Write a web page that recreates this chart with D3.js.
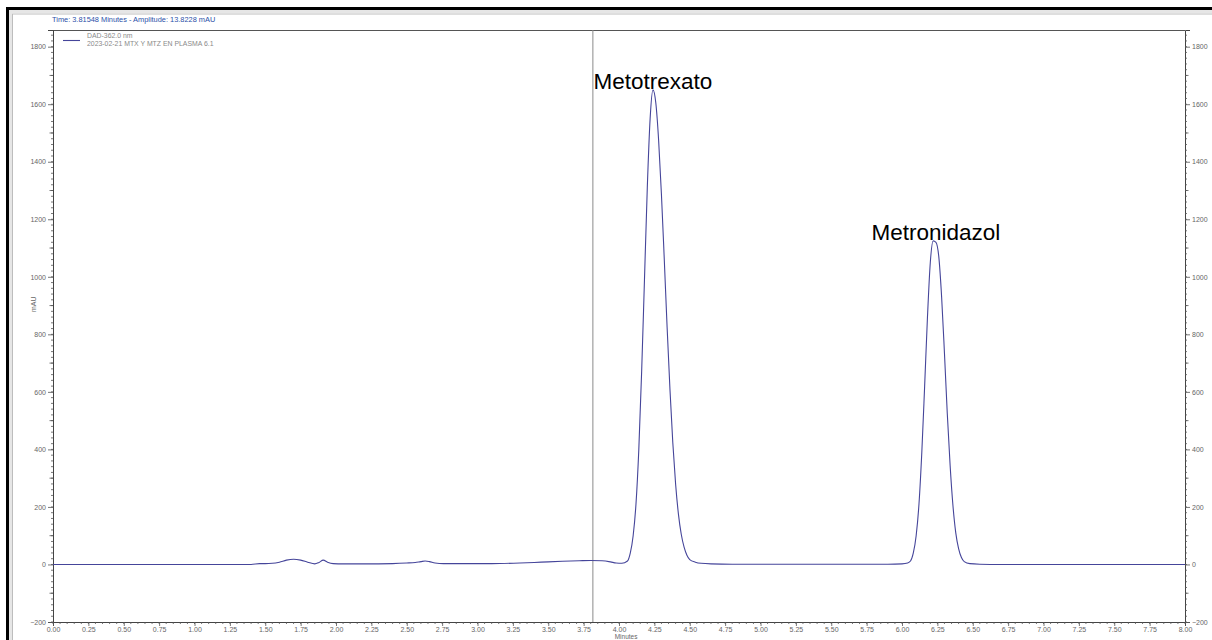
<!DOCTYPE html>
<html>
<head>
<meta charset="utf-8">
<script src="https://cdn.jsdelivr.net/npm/d3@7/dist/d3.min.js"></script>
<style>
  html, body { margin: 0; padding: 0; background: #fff; }
  svg { display: block; font-family: Arial, "Liberation Sans", sans-serif; }
</style>
</head>
<body>
<svg id="chart" width="1212" height="640"></svg>
<script>
// Chromatogram trace: retention time (min) and detector response (mAU)
const timeMin = [
  0.00, 0.50, 1.00, 1.40, 1.46, 1.50, 1.55, 1.60, 1.65, 1.70, 1.75, 1.80, 1.85,
  1.88, 1.91, 1.94, 1.98, 2.05, 2.20, 2.40, 2.50, 2.56, 2.60, 2.63, 2.66, 2.70,
  2.76, 2.90, 3.10, 3.30, 3.45, 3.60, 3.72, 3.80, 3.88, 3.94, 3.98, 4.02, 4.06,
  4.08, 4.10, 4.12, 4.14, 4.16, 4.18, 4.20, 4.22, 4.24, 4.26, 4.28, 4.30, 4.32,
  4.34, 4.36, 4.38, 4.40, 4.42, 4.44, 4.46, 4.48, 4.50, 4.54, 4.58, 4.65, 4.80,
  5.20, 5.60, 5.90, 6.00, 6.04, 6.06, 6.08, 6.10, 6.12, 6.14, 6.16, 6.18, 6.20,
  6.22, 6.24, 6.26, 6.28, 6.30, 6.32, 6.34, 6.36, 6.38, 6.40, 6.42, 6.44, 6.48,
  6.55, 6.70, 7.20, 7.60, 8.00
];
const amplitudeMAU = [
  0, 0, 0, 0, 3, 3, 4, 8, 15, 18, 15, 8, 2,
  7, 15, 8, 3, 2, 2, 3, 5, 7, 10, 12, 10, 5,
  3, 3, 3, 5, 8, 11, 13, 14, 13, 9, 5, 4, 12,
  40, 100, 210, 400, 670, 990, 1310, 1550, 1650, 1605, 1475, 1285, 1060,
  825, 610, 425, 280, 175, 105, 60, 32, 17, 8, 4, 2, 1,
  1, 1, 1, 2, 5, 12, 40, 100, 210, 390, 620, 860, 1050,
  1125, 1120, 1070, 930, 735, 525, 345, 205, 110, 55, 24, 10, 3,
  1, 0, 0, 0, 0
];

// Axis tick values and labels
const xMajorTicks = d3.range(0, 33).map(i => i * 0.25);
const xMinorTicks = d3.range(0, 161).map(i => i * 0.05);
const yMajorTicks = [-200, 0, 200, 400, 600, 800, 1000, 1200, 1400, 1600, 1800];
const yMidTicks = [-100, 100, 300, 500, 700, 900, 1100, 1300, 1500, 1700];
const yMinorTicks = d3.range(-200, 1860, 20);

// Peak annotations
const peakNames = ["Metotrexato", "Metronidazol"];
const peakTimes = [4.24, 6.24];
const peakHeights = [1650, 1125];

// Cursor readout
const cursorTime = 3.81548;
const cursorAmp = 13.8228;

const svg = d3.select("#chart");
const plotLeft = 53, plotRight = 1185, plotTop = 30, plotBottom = 622;

const x = d3.scaleLinear().domain([0, 8]).range([plotLeft, plotRight]);
const y = d3.scaleLinear().domain([-200, 1858]).range([plotBottom, plotTop]);

// window frame
svg.append("rect").attr("x", 7).attr("y", 7).attr("width", 1212).attr("height", 3).attr("fill", "#000");
svg.append("rect").attr("x", 6).attr("y", 7).attr("width", 3).attr("height", 640).attr("fill", "#000");
svg.append("rect").attr("x", 9).attr("y", 10).attr("width", 1212).attr("height", 3).attr("fill", "#e6e6e6");
svg.append("rect").attr("x", 9).attr("y", 10).attr("width", 3).attr("height", 640).attr("fill", "#e6e6e6");
svg.append("line").attr("x1", 12).attr("x2", 1212).attr("y1", 14).attr("y2", 14).attr("stroke", "#bdbdbd");
svg.append("line").attr("x1", 12.5).attr("x2", 12.5).attr("y1", 14).attr("y2", 640).attr("stroke", "#bdbdbd");

// header readout
svg.append("text").attr("x", 52).attr("y", 22)
  .attr("font-size", 7.4).attr("fill", "#2b4fa8")
  .text(`Time:  ${cursorTime} Minutes - Amplitude:  ${cursorAmp} mAU`);

// plot frame
svg.append("line").attr("x1", plotLeft).attr("x2", plotRight).attr("y1", plotTop + 0.5).attr("y2", plotTop + 0.5)
  .attr("stroke", "#555").attr("stroke-width", 1);

const tickColor = "#555";
const labelColor = "#666";
const tickFont = 7;

// left axis
const yAxisL = d3.axisLeft(y).tickValues(yMajorTicks).tickSize(5).tickFormat(d3.format("d"));
const gL = svg.append("g").attr("transform", `translate(${plotLeft},0)`).call(yAxisL);
gL.append("g").selectAll("line").data(yMinorTicks).join("line")
  .attr("x1", -2).attr("x2", 0).attr("y1", d => y(d)).attr("y2", d => y(d));
gL.append("g").selectAll("line").data(yMidTicks).join("line")
  .attr("x1", -3.5).attr("x2", 0).attr("y1", d => y(d)).attr("y2", d => y(d));

// right axis
const yAxisR = d3.axisRight(y).tickValues(yMajorTicks).tickSize(5).tickFormat(d3.format("d"));
const gR = svg.append("g").attr("transform", `translate(${plotRight},0)`).call(yAxisR);
gR.append("g").selectAll("line").data(yMinorTicks).join("line")
  .attr("x1", 0).attr("x2", 2).attr("y1", d => y(d)).attr("y2", d => y(d));
gR.append("g").selectAll("line").data(yMidTicks).join("line")
  .attr("x1", 0).attr("x2", 3.5).attr("y1", d => y(d)).attr("y2", d => y(d));

// bottom axis
const xAxis = d3.axisBottom(x).tickValues(xMajorTicks).tickSize(4).tickFormat(d3.format(".2f"));
const gB = svg.append("g").attr("transform", `translate(0,${plotBottom})`).call(xAxis);
gB.append("g").selectAll("line").data(xMinorTicks).join("line")
  .attr("x1", d => x(d)).attr("x2", d => x(d)).attr("y1", 0).attr("y2", 2);

[gL, gR, gB].forEach(g => {
  g.select(".domain").attr("stroke", "#444").attr("stroke-width", 1);
  g.selectAll("line").attr("stroke", tickColor).attr("stroke-width", 0.8);
  g.selectAll("text").attr("fill", labelColor).attr("font-size", tickFont)
    .attr("font-family", "Arial, 'Liberation Sans', sans-serif");
});
gL.selectAll(".tick text").attr("x", -7);
gR.selectAll(".tick text").attr("x", 7);
gB.selectAll(".tick text").attr("y", 5.5);

// axis titles
svg.append("text").attr("transform", `translate(36,${y(800) - 30}) rotate(-90)`)
  .attr("text-anchor", "middle").attr("font-size", tickFont).attr("fill", labelColor).text("mAU");
svg.append("text").attr("x", x(4.05)).attr("y", 638.5)
  .attr("text-anchor", "middle").attr("font-size", 6.5).attr("fill", labelColor).text("Minutes");

// cursor line
svg.append("line").attr("x1", x(cursorTime)).attr("x2", x(cursorTime))
  .attr("y1", plotTop).attr("y2", plotBottom).attr("stroke", "#8a8a8a").attr("stroke-width", 1);

// trace
const points = timeMin.map((t, i) => [t, amplitudeMAU[i]]);
const line = d3.line().x(d => x(d[0])).y(d => y(d[1])).curve(d3.curveMonotoneX);
svg.append("path").datum(points).attr("d", line)
  .attr("fill", "none").attr("stroke", "#45459a").attr("stroke-width", 1.1);

// legend
svg.append("line").attr("x1", 63).attr("x2", 80).attr("y1", 40.5).attr("y2", 40.5)
  .attr("stroke", "#45459a").attr("stroke-width", 1.1);
svg.append("text").attr("x", 87).attr("y", 38).attr("font-size", 6.9).attr("fill", "#8a8a8a").text("DAD-362.0 nm");
svg.append("text").attr("x", 87).attr("y", 45.5).attr("font-size", 6.9).attr("fill", "#8a8a8a").text("2023-02-21 MTX Y MTZ EN PLASMA 6.1");

// peak labels
svg.append("g").selectAll("text").data(peakNames).join("text")
  .attr("x", (d, i) => x(peakTimes[i]))
  .attr("y", (d, i) => y(peakHeights[i]) - 1)
  .attr("text-anchor", "middle")
  .attr("font-size", 22.5).attr("fill", "#000")
  .attr("font-family", "Arial, 'Liberation Sans', sans-serif")
  .text(d => d);
</script>
</body>
</html>
